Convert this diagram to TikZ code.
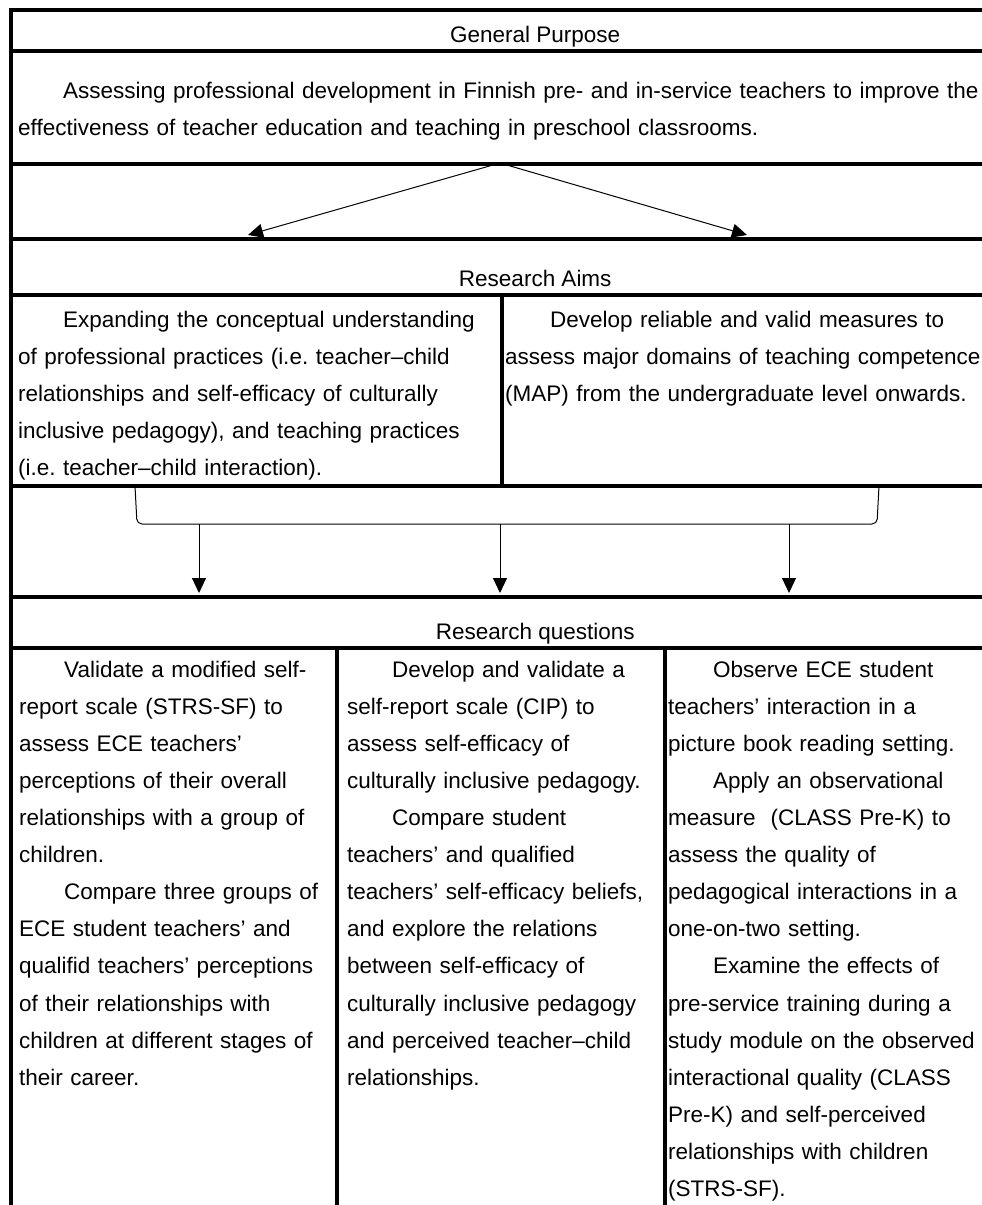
\documentclass[tikz,border=0pt]{standalone}
\usepackage{fontspec}
\setmainfont{Liberation Sans}
\usepackage{tikz}
\usetikzlibrary{positioning, arrows.meta}
\setlength{\parskip}{0pt}
\frenchspacing
\newcommand{\firstind}{\hspace*{45pt}}

\begin{document}
\begin{tikzpicture}[x=1pt, y=-1pt,
    cell/.style={draw, line width=3.5pt, anchor=north west, inner sep=0pt},
    txt/.style={inner sep=0pt, align=left, text width=520pt, font=\fontsize{22.5}{37.1}\selectfont},
    head/.style={inner sep=0pt, anchor=base, font=\fontsize{22.5}{27}\selectfont},
    link/.style={line width=1pt, -{Triangle[length=15pt, width=14pt]}}]

  \useasboundingbox (0,0) rectangle (982,1205);
  \clip (0,0) rectangle (982,1205);

  % table cells (it runs on past the right and the bottom edge)
  \node[cell, minimum width=1049pt, minimum height=41pt] (gp) at (9,8) {};
  \node[cell, minimum width=1049pt, minimum height=113pt] (purp) at (9,49) {};
  \node[cell, minimum width=1049pt, minimum height=75pt] (gapA) at (9,162) {};
  \node[cell, minimum width=1049pt, minimum height=56pt] (ra) at (9,237) {};
  \node[cell, minimum width=491pt, minimum height=191pt] (aimA) at (9,293) {};
  \node[cell, minimum width=558pt, minimum height=191pt] (aimB) at (500,293) {};
  \node[cell, minimum width=1049pt, minimum height=111pt] (gapB) at (9,484) {};
  \node[cell, minimum width=1049pt, minimum height=51pt] (rq) at (9,595) {};
  \node[cell, minimum width=326pt, minimum height=600pt] (qA) at (9,646) {};
  \node[cell, minimum width=328pt, minimum height=600pt] (qB) at (335,646) {};
  \node[cell, minimum width=395pt, minimum height=600pt] (qC) at (663,646) {};

  % headings
  \node[head] (gpt) at ([yshift=10.5pt]gp.south) {General Purpose};
  \node[head] (rat) at ([yshift=10.5pt]ra.south) {Research Aims};
  \node[head] (rqt) at ([yshift=10.5pt]rq.south) {Research questions};

  % texts
  \node[txt, text width=1000pt, below right=32.6pt and 9pt of purp.north west] (purpt)
    {\firstind Assessing professional development in Finnish pre- and in-service teachers to improve the\\
     effectiveness of teacher education and teaching in preschool classrooms.};

  \node[txt, below right=17.6pt and 9pt of aimA.north west] (aimAt)
    {\firstind Expanding the conceptual understanding\\
     of professional practices (i.e. teacher–child\\
     relationships and self-efficacy of culturally\\
     inclusive pedagogy), and teaching practices\\
     (i.e. teacher–child interaction).};
  \node[txt, below right=17.6pt and 5pt of aimB.north west] (aimBt)
    {\firstind Develop reliable and valid measures to\\
     assess major domains of teaching competence\\
     (MAP) from the undergraduate level onwards.};

  \node[txt, below right=14.6pt and 10pt of qA.north west] (qAt)
    {\firstind Validate a modified self-\\
     report scale (STRS-SF) to\\
     assess ECE teachers’\\
     perceptions of their overall\\
     relationships with a group of\\
     children.\par
     \firstind Compare three groups of\\
     ECE student teachers’ and\\
     qualifid teachers’ perceptions\\
     of their relationships with\\
     children at different stages of\\
     their career.};
  \node[txt, below right=14.6pt and 12pt of qB.north west] (qBt)
    {\firstind Develop and validate a\\
     self-report scale (CIP) to\\
     assess self-efficacy of\\
     culturally inclusive pedagogy.\par
     \firstind Compare student\\
     teachers’ and qualified\\
     teachers’ self-efficacy beliefs,\\
     and explore the relations\\
     between self-efficacy of\\
     culturally inclusive pedagogy\\
     and perceived teacher–child\\
     relationships.};
  \node[txt, below right=14.6pt and 5pt of qC.north west] (qCt)
    {\firstind Observe ECE student\\
     teachers’ interaction in a\\
     picture book reading setting.\par
     \firstind Apply an observational\\
     measure~ (CLASS Pre-K) to\\
     assess the quality of\\
     pedagogical interactions in a\\
     one-on-two setting.\par
     \firstind Examine the effects of\\
     pre-service training during a\\
     study module on the observed\\
     interactional quality (CLASS\\
     Pre-K) and self-perceived\\
     relationships with children\\
     (STRS-SF).};

  % purpose to aims
  \coordinate (split) at (500,163);
  \coordinate (toA) at (248,235);
  \coordinate (toB) at (747,235);
  \draw[link] (split) -- (toA);
  \draw[link] (split) -- (toB);

  % aims to questions
  \coordinate (brl) at (135,486);
  \coordinate (brr) at (879,486);
  \draw[line width=1pt, rounded corners=5pt] (brl) -- (137,524) -- (877,524) -- (brr);
  \foreach \x in {199, 500, 789}
    \draw[link] (\x,524) -- (\x,593);
\end{tikzpicture}
\end{document}
